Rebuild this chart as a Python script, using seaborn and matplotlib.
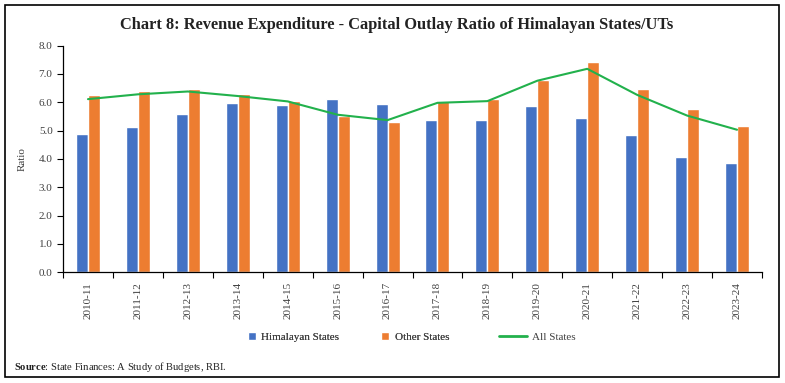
import numpy as np
import pandas as pd
import matplotlib
matplotlib.use("Agg")
import matplotlib.pyplot as plt
import seaborn as sns
from matplotlib.lines import Line2D
from matplotlib.patches import Patch, Rectangle

years = ["2010-11", "2011-12", "2012-13", "2013-14", "2014-15", "2015-16", "2016-17",
         "2017-18", "2018-19", "2019-20", "2020-21", "2021-22", "2022-23", "2023-24"]
himalayan = [4.88, 5.13, 5.58, 5.99, 5.90, 6.13, 5.95, 5.36, 5.38, 5.87, 5.43, 4.84, 4.07, 3.86]
other = [6.26, 6.41, 6.47, 6.29, 6.05, 5.52, 5.31, 6.04, 6.10, 6.80, 7.42, 6.47, 5.77, 5.18]
all_states = [6.11, 6.28, 6.38, 6.22, 6.03, 5.56, 5.37, 5.98, 6.04, 6.76, 7.18, 6.26, 5.53, 5.03]

BLUE = "#4472C4"
ORANGE = "#ED7D31"
GREEN = "#22B14C"
TXT = "#404040"

sns.set_theme(style="white")
plt.rcParams["font.family"] = ["Liberation Serif", "DejaVu Serif"]
plt.rcParams["mathtext.fontset"] = "custom"
plt.rcParams["mathtext.rm"] = "Liberation Serif"
plt.rcParams["mathtext.bf"] = "Liberation Serif:bold"

df = pd.DataFrame({
    "Year": years * 2,
    "Ratio": himalayan + other,
    "Group": ["Himalayan States"] * len(years) + ["Other States"] * len(years),
})

fig = plt.figure(figsize=(7.85, 3.83), dpi=100)
ax = fig.add_axes([0.0803, 0.289, 0.8904, 0.592])

sns.barplot(data=df, x="Year", y="Ratio", hue="Group", order=years,
            palette={"Himalayan States": BLUE, "Other States": ORANGE},
            width=0.48, gap=0, errorbar=None, saturation=1, ax=ax, legend=False)
ax.plot(np.arange(len(years)), all_states, color=GREEN, lw=1.5)

ax.set_xlim(-0.5, len(years) - 0.5)
ax.set_ylim(0, 8)
ax.set_yticks(np.arange(0, 8.1, 1.0))
ax.set_yticklabels([f"{v:.1f}" for v in np.arange(0, 8.1, 1.0)], fontsize=8)
ax.set_xticks(np.arange(len(years)))
ax.set_xticklabels(years, rotation=90, fontsize=8)
ax.set_xticks(np.arange(-0.5, len(years), 1), minor=True)
ax.tick_params(axis="x", which="major", length=0, pad=7, labelcolor=TXT)
ax.tick_params(axis="x", which="minor", bottom=True, length=4, direction="out",
               color="black", width=0.8)
ax.tick_params(axis="y", which="major", left=True, length=4, direction="out",
               color="black", width=0.8, labelcolor=TXT)
ax.set_xlabel("")
ax.set_ylabel("Ratio", fontsize=8, color=TXT)
ax.yaxis.set_label_coords(-0.052, 0.5)

for s in ["top", "right"]:
    ax.spines[s].set_visible(False)
for s in ["left", "bottom"]:
    ax.spines[s].set_color("black")
    ax.spines[s].set_linewidth(0.9)

fig.text(0.505, 0.935, "Chart 8: Revenue Expenditure - Capital Outlay Ratio of Himalayan States/UTs",
         ha="center", va="center", fontsize=11.8, fontweight="bold", color="#222222")

bar_handles = [Patch(facecolor=BLUE, label="Himalayan States"),
               Patch(facecolor=ORANGE, label="Other States")]
leg1 = fig.legend(handles=bar_handles, loc="center left", bbox_to_anchor=(0.303, 0.12), ncol=2,
                  frameon=False, fontsize=8, handlelength=0.7, handleheight=0.7,
                  columnspacing=3.8, handletextpad=0.5, labelcolor=TXT)
fig.legend(handles=[Line2D([0], [0], color=GREEN, lw=2, label="All States")],
           loc="center left", bbox_to_anchor=(0.623, 0.12), frameon=False, fontsize=8,
           handlelength=2.5, handletextpad=0.5, labelcolor=TXT)
fig.add_artist(leg1)

fig.text(0.018, 0.042, r"$\bf{Source}$: State Finances: A Study of Budgets, RBI.",
         fontsize=7.6, ha="left", va="center", color="#222222")

fig.patches.append(Rectangle((0.007, 0.016), 0.985, 0.972, transform=fig.transFigure,
                             fill=False, edgecolor="black", lw=1.2))

fig.savefig("out.png", dpi=100)
